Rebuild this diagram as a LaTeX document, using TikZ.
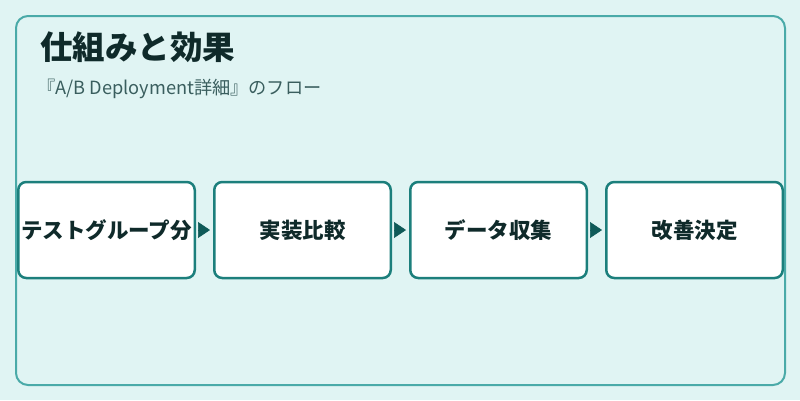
\documentclass[tikz,border=0pt]{standalone}
\usepackage{fontspec}
\setmainfont{Noto Sans CJK JP}
\usetikzlibrary{positioning,arrows.meta}
\definecolor{bgteal}{HTML}{E0F4F3}
\definecolor{frameteal}{HTML}{4AAAA8}
\definecolor{boxteal}{HTML}{1C7F7C}
\definecolor{arrowteal}{HTML}{0F5A58}
\definecolor{titleink}{HTML}{0F2A2A}
\definecolor{subink}{HTML}{3A5E5E}
\begin{document}
\begin{tikzpicture}[x=1pt,y=-1pt,
    stepbox/.style={draw=boxteal, line width=2.5pt, fill=white, rounded corners=8pt,
        minimum width=176.5pt, minimum height=96pt, inner sep=0pt,
        font=\fontsize{21.5}{25}\selectfont\bfseries, text=titleink},
    flow/.style={arrowteal, line width=0.6pt, -{Triangle[length=12pt,width=16pt]}, shorten <=2pt, shorten >=3pt}]
    \fill[bgteal] (0,0) rectangle (800,400);
    \useasboundingbox (0,0) rectangle (800,400);
    \draw[frameteal, line width=2pt, rounded corners=12pt] (16,16) rectangle (785,385);
    \node[anchor=west, text=titleink, font=\fontsize{32.5}{36}\selectfont\bfseries, inner sep=0pt] (title) at (40,47) {仕組みと効果};
    \node[anchor=west, text=subink, font=\fontsize{18.2}{21}\selectfont, inner sep=0pt] (subtitle) at (37,89) {『A/B Deployment詳細』のフロー};
    \node[stepbox] (group) at (106.5,230) {テストグループ分};
    \node[stepbox, right=17pt of group] (impl) {実装比較};
    \node[stepbox, right=17pt of impl] (data) {データ収集};
    \node[stepbox, right=17pt of data] (decide) {改善決定};
    \draw[flow] (group) -- (impl);
    \draw[flow] (impl) -- (data);
    \draw[flow] (data) -- (decide);
\end{tikzpicture}
\end{document}
